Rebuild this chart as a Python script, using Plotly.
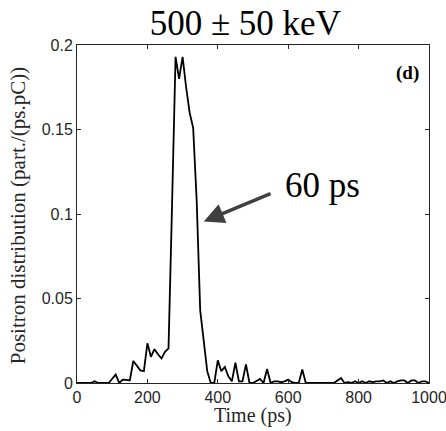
import plotly.graph_objects as go

time_ps = list(range(0, 1001, 10))
positron = [
    0, 0, 0, 0, 0, 0.001, 0, 0, 0, 0,            # 0-90
    0.0025, 0.005, 0, 0.002, 0.0018, 0.0015, 0.013, 0.01, 0.0075, 0.007,  # 100-190
    0.0235, 0.0155, 0.02, 0.017, 0.0145, 0.0185, 0.0205, 0.105, 0.193, 0.18,  # 200-290
    0.193, 0.175, 0.16, 0.151, 0.108, 0.043, 0.024, 0.007, 0, 0,  # 300-390
    0.0134, 0.007, 0.0095, 0.004, 0.001, 0.012, 0.001, 0.001, 0.011, 0,  # 400-490
    0, 0.0012, 0.0024, 0, 0.0083, 0, 0.001, 0.001, 0.0005, 0.001,  # 500-590
    0.002, 0.0005, 0, 0, 0.008, 0, 0, 0, 0, 0,  # 600-690
    0, 0, 0, 0, 0.0015, 0.003, 0, 0.0005, 0, 0.001,  # 700-790
    0, 0.001, 0, 0.001, 0.0005, 0.001, 0.001, 0.0015, 0, 0.001,  # 800-890
    0, 0.001, 0.0015, 0.0015, 0, 0.0015, 0.0015, 0, 0.001, 0.001,  # 900-990
    0,  # 1000
]

x_ticks = [0, 200, 400, 600, 800, 1000]
y_ticks = [0, 0.05, 0.1, 0.15, 0.2]
y_tick_labels = ["0", "0.05", "0.1", "0.15", "0.2"]

title_text = "500 ± 50 keV"
x_label = "Time (ps)"
y_label = "Positron distribution (part./(ps.pC))"
panel_label = "(d)"
note_text = "60 ps"
arrow_tip = (360, 0.0956)
arrow_tail = (554, 0.1124)

serif = "Liberation Serif"
sans = "Liberation Sans"
axis_color = "#262626"

fig = go.Figure()
fig.add_trace(go.Scatter(
    x=time_ps, y=positron, mode="lines",
    line=dict(color="black", width=1.8),
    showlegend=False, hoverinfo="skip",
))

axis_common = dict(
    showline=True, linecolor=axis_color, linewidth=1, mirror="ticks",
    ticks="inside", ticklen=4, tickcolor=axis_color, tickwidth=1,
    showgrid=False, zeroline=False, ticklabeloverflow="allow", automargin=False,
    tickfont=dict(family=sans, size=16, color=axis_color),
)

fig.update_layout(
    width=446, height=431,
    margin=dict(l=77, r=17, t=45, b=48),
    paper_bgcolor="white", plot_bgcolor="white",
    xaxis=dict(range=[0, 1000], tickvals=x_ticks, **axis_common),
    yaxis=dict(range=[0, 0.2], tickvals=y_ticks, ticktext=y_tick_labels, **axis_common),
    title=dict(text=title_text, font=dict(family=serif, size=35, color="black"),
               x=0.55, xanchor="center", y=0.975, yanchor="top"),
    annotations=[
        dict(x=arrow_tip[0], y=arrow_tip[1], ax=arrow_tail[0], ay=arrow_tail[1],
             xref="x", yref="y", axref="x", ayref="y", text="",
             showarrow=True, arrowhead=2, arrowsize=1.2, arrowwidth=3.4,
             arrowcolor="#404040"),
        dict(x=0.585, y=0.585, xref="paper", yref="paper", text=note_text,
             showarrow=False, xanchor="left", yanchor="middle",
             font=dict(family=serif, size=35, color="black")),
        dict(x=0.978, y=0.917, xref="paper", yref="paper", text="<b>" + panel_label + "</b>",
             showarrow=False, xanchor="right", yanchor="middle",
             font=dict(family=serif, size=19, color="black")),
        dict(x=0.4986, y=-0.0976, xref="paper", yref="paper", text=x_label,
             showarrow=False, xanchor="center", yanchor="middle",
             font=dict(family=serif, size=20, color=axis_color)),
        dict(x=-0.167, y=0.497, xref="paper", yref="paper", text=y_label,
             showarrow=False, xanchor="center", yanchor="middle", textangle=-90,
             font=dict(family=serif, size=21, color=axis_color)),
    ],
)

fig.write_html("out.html")
